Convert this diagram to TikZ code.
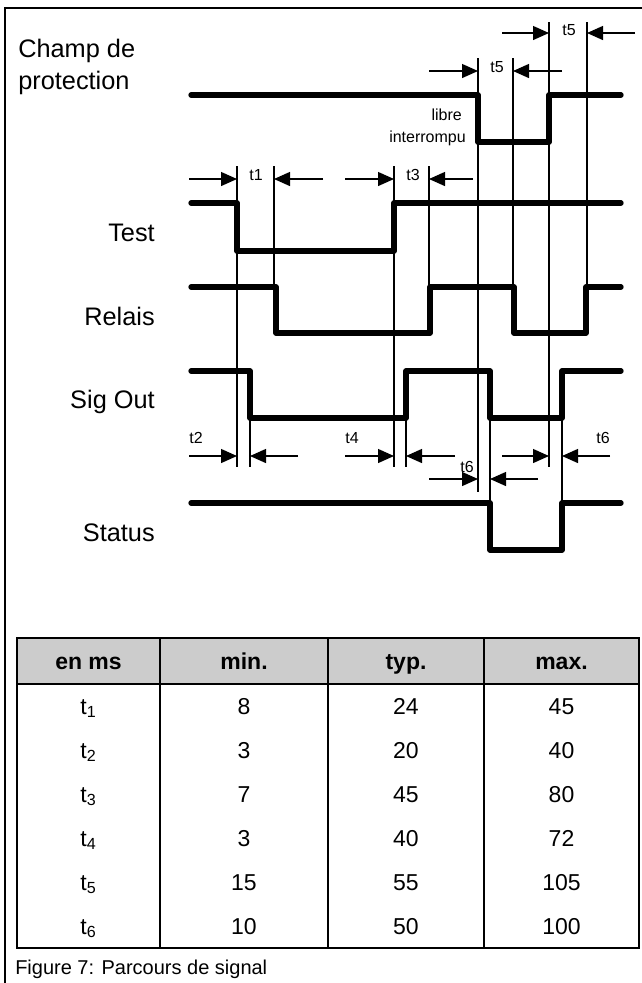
\documentclass[tikz,border=0pt]{standalone}
\usepackage{fontspec}
\setmainfont{Liberation Sans}
\usetikzlibrary{arrows.meta}
\definecolor{headgray}{HTML}{CCCCCC}

\begin{document}
\begin{tikzpicture}[x=0.75pt,y=-0.75pt,
    wave/.style={line width=4pt,line cap=round,line join=round},
    guide/.style={line width=0.8pt},
    dim/.style={line width=1pt,-{Triangle[length=12pt,width=10.5pt]}},
    tlab/.style={inner sep=0pt,font=\fontsize{12}{14}\selectfont},
    siglab/.style={inner sep=0pt,anchor=base east,font=\fontsize{19}{22}\selectfont},
    cell/.style={inner sep=0pt,anchor=base,font=\fontsize{17.25}{20}\selectfont}]
  \useasboundingbox (0,0) rectangle (642,983);

  % Outer frame (open at right and bottom)
  \draw[line width=1.5pt] (642,8) -- (5,8) -- (5,983);

  % Common ends of the traces
  \def\xs{191}  % start
  \def\xe{621}  % end

  % ---- Signal names ----
  \node[inner sep=0pt,anchor=base west,font=\fontsize{19}{22}\selectfont] (champ) at (18,57) {Champ de};
  \node[inner sep=0pt,anchor=base west,font=\fontsize{19}{22}\selectfont] (prot) at (18,89) {protection};
  \node[siglab] (test) at (155,241) {Test};
  \node[siglab] (relais) at (155,325) {Relais};
  \node[siglab] (sigout) at (155,408) {Sig Out};
  \node[siglab] (status) at (155,541) {Status};

  % ---- Traces ----
  \draw[wave] (\xs,95) -- (478,95) -- (478,142) -- (549,142) -- (549,95) -- (\xe,95);
  \draw[wave] (\xs,203) -- (237,203) -- (237,251) -- (394,251) -- (394,203) -- (\xe,203);
  \draw[wave] (\xs,287) -- (276,287) -- (276,333) -- (430,333) -- (430,287)
    -- (514,287) -- (514,333) -- (586,333) -- (586,287) -- (\xe,287);
  \draw[wave] (\xs,371) -- (250,371) -- (250,418) -- (406,418) -- (406,371)
    -- (490,371) -- (490,418) -- (562,418) -- (562,371) -- (\xe,371);
  \draw[wave] (\xs,503) -- (490,503) -- (490,550) -- (562,550) -- (562,503) -- (\xe,503);

  \node[tlab,anchor=east] (libre) at (462,115) {libre};
  \node[tlab,anchor=east] (interr) at (466,138) {interrompu};

  % ---- Thin guide lines ----
  \foreach \x/\ya/\yb in {237/166/467, 274/166/289, 394/166/467, 429/166/289,
      478/58/492, 513/58/289, 549/22/467, 587/22/333,
      250/371/467, 406/371/467, 490/371/503, 562/371/503}
    \draw[guide] (\x,\ya) -- (\x,\yb);

  % ---- Timing marks ----
  \foreach \y/\a/\b/\c/\d in {33/502/549/635/587, 71/429/478/562/513,
      179/189/237/323/274, 179/345/394/473/429,
      456/189/237/298/250, 456/345/394/455/406, 456/502/549/610/562,
      479/429/478/538/490}
  {
    \draw[dim] (\a,\y) -- (\b,\y);
    \draw[dim] (\c,\y) -- (\d,\y);
  }
  \node[tlab] (t5a) at (569,30) {t5};
  \node[tlab] (t5b) at (497,67) {t5};
  \node[tlab] (t1) at (256,175) {t1};
  \node[tlab] (t3) at (413,175) {t3};
  \node[tlab] (t2) at (196,438) {t2};
  \node[tlab] (t4) at (352,438) {t4};
  \node[tlab] (t6a) at (603,438) {t6};
  \node[tlab] (t6b) at (467,467) {t6};

  % ---- Table ----
  \fill[headgray] (17,638) rectangle (639,684);
  \draw[line width=1.5pt] (17,638) rectangle (639,948);
  \draw[line width=1.5pt] (17,684) -- (639,684);
  \foreach \x in {160,328,484}
    \draw[line width=1.5pt] (\x,638) -- (\x,948);

  \node[cell,font=\fontsize{17.25}{20}\selectfont\bfseries] (hunit) at (88.5,669) {en ms};
  \node[cell,font=\fontsize{17.25}{20}\selectfont\bfseries] (hmin) at (244,669) {min.};
  \node[cell,font=\fontsize{17.25}{20}\selectfont\bfseries] (htyp) at (406,669) {typ.};
  \node[cell,font=\fontsize{17.25}{20}\selectfont\bfseries] (hmax) at (561.5,669) {max.};

  \foreach \i/\mn/\ty/\mx in {1/8/24/45, 2/3/20/40, 3/7/45/80,
      4/3/40/72, 5/15/55/105, 6/10/50/100}
  {
    \node[cell] (n\i) at (88.5,{670+44*\i}) {t\textsubscript{\i}};
    \node[cell] (mn\i) at (244,{670+44*\i}) {\mn};
    \node[cell] (ty\i) at (406,{670+44*\i}) {\ty};
    \node[cell] (mx\i) at (561.5,{670+44*\i}) {\mx};
  }

  % Caption
  \node[inner sep=0pt,anchor=base west,font=\fontsize{15}{18}\selectfont] (caption) at (15,974) {Figure 7: Parcours de signal};
\end{tikzpicture}
\end{document}
